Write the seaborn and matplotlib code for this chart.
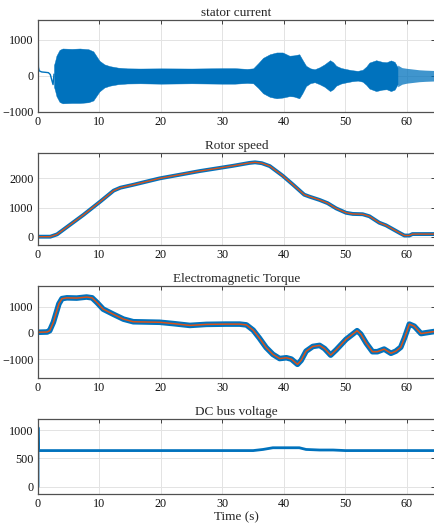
import matplotlib
matplotlib.use("Agg")
import matplotlib.pyplot as plt
import seaborn as sns

BLUE = "#0072BD"
LIGHT_BLUE = "#6fb3e3"
ORANGE = "#D95319"

# --- stator current ---
# start-up transient (single trace before the inverter kicks in)
I_PRE_T = [0.0, 0.06, 0.2, 0.6, 1.2, 1.7, 2.0, 2.25, 2.45, 2.6]
I_PRE_V = [1550, 250, 140, 110, 100, 90, 40, -120, -240, 50]
# envelope of the fast oscillation
ENV_T = [2.6, 2.8, 3.0, 3.5, 4.0, 5.5, 6.8, 8.2, 9.0, 10.0, 10.8, 11.7, 13.0,
         14.5, 16.6, 20.0, 25.0, 30.0, 32.0, 34.0, 35.0, 35.8, 36.6, 37.7,
         38.8, 39.8, 40.9, 41.6, 42.5, 43.0, 43.6, 44.3, 45.0, 45.8, 46.6,
         47.5, 48.0, 48.5, 49.3, 50.1, 51.0, 52.0, 52.8, 53.4, 53.9, 55.0,
         56.0, 56.7, 57.4, 58.0, 58.5]
ENV_UP = [300, 420, 560, 720, 760, 750, 760, 740, 680, 420, 320, 270, 230,
          210, 205, 210, 205, 215, 215, 195, 210, 350, 500, 600, 650, 650,
          560, 570, 600, 450, 280, 210, 185, 240, 320, 435, 380, 280, 220,
          190, 160, 140, 170, 260, 370, 435, 390, 380, 430, 390, 240]
ENV_LO = [-300, -420, -560, -720, -760, -750, -750, -730, -680, -430, -320,
          -270, -230, -210, -205, -215, -205, -215, -215, -195, -205, -330,
          -480, -580, -620, -600, -560, -570, -620, -480, -280, -200, -175,
          -230, -300, -420, -370, -270, -210, -180, -150, -130, -160, -250,
          -350, -420, -380, -370, -420, -380, -230]
# sparse tail after ~58.5 s
TAIL_T = [58.5, 59.2, 60.0, 61.0, 62.0, 63.0, 64.5]
TAIL_UP = [300, 230, 210, 190, 170, 160, 150]
TAIL_LO = [-300, -230, -200, -180, -160, -150, -140]

# --- rotor speed ---
SPD_T = [0, 2.0, 3.1, 4.7, 7.4, 10.1, 12.3, 13.4, 15.5, 19.8, 26.3, 31.7,
         34.4, 35.3, 36.4, 37.7, 39.8, 41.5, 43.3, 44.2, 45.8, 47.1, 48.5,
         50.1, 51.2, 52.8, 53.9, 55.5, 56.6, 58.8, 59.6, 60.4, 60.9, 64.5]
SPD_V = [0, 0, 80, 330, 750, 1200, 1580, 1680, 1780, 2000, 2250, 2430, 2530,
         2550, 2520, 2420, 2090, 1780, 1440, 1370, 1260, 1150, 970, 820, 780,
         770, 700, 480, 390, 130, 40, 40, 90, 90]

# --- electromagnetic torque ---
TQ_T = [0, 1.5, 1.9, 2.5, 3.4, 3.9, 4.7, 6.3, 7.9, 8.8, 9.6, 10.6, 12.3,
        13.9, 15.5, 19.8, 22.0, 24.7, 27.4, 30.6, 32.8, 33.9, 35.0, 36.0,
        37.1, 38.2, 39.3, 40.4, 41.2, 42.2, 42.8, 43.6, 44.7, 45.8, 46.6,
        47.6, 48.5, 50.1, 51.2, 51.9, 52.5, 53.4, 54.4, 55.2, 56.3, 57.4,
        58.2, 59.0, 59.6, 60.4, 61.2, 62.3, 63.1, 64.5]
TQ_V = [20, 30, 80, 400, 1100, 1300, 1330, 1320, 1360, 1330, 1150, 900, 700,
        520, 420, 400, 350, 280, 320, 330, 330, 300, 100, -200, -560, -820,
        -980, -950, -1000, -1200, -1050, -700, -520, -480, -600, -850, -650,
        -250, -50, 80, -50, -400, -720, -720, -620, -780, -700, -550, -200,
        330, 250, -30, 0, 50]

# --- DC bus voltage ---
DC_T = [0, 0, 0.05, 35.0, 36.6, 38.2, 42.5, 43.6, 45.8, 48.0, 50.0, 64.5]
DC_V = [0, 1050, 640, 640, 660, 690, 690, 660, 650, 650, 640, 640]

XTICKS = [0, 10, 20, 30, 40, 50, 60]

sns.set_theme(style="white")
plt.rcParams["font.family"] = ["Liberation Serif", "DejaVu Serif"]

fig = plt.figure(figsize=(4.35, 5.31), dpi=100)
L, W = 38 / 435, 1 - 38 / 435 - 0.001
rects = [(1 - 112 / 531, 92 / 531), (1 - 245 / 531, 92 / 531),
         (1 - 378 / 531, 92 / 531), (1 - 494 / 531, 75 / 531)]
axes = [fig.add_axes([L, b, W, h]) for b, h in rects]

# stator current
ax = axes[0]
ax.fill_between(ENV_T, ENV_LO, ENV_UP, color=BLUE, lw=0.3)
ax.fill_between(TAIL_T, TAIL_LO, TAIL_UP, color=BLUE, alpha=0.75, lw=0)
sns.lineplot(x=I_PRE_T[:2], y=I_PRE_V[:2], ax=ax, color=LIGHT_BLUE, lw=1.2,
             sort=False, estimator=None)
sns.lineplot(x=I_PRE_T[1:], y=I_PRE_V[1:], ax=ax, color=BLUE, lw=1.0,
             sort=False, estimator=None)
ax.set_ylim(-1000, 1550)
ax.set_yticks([-1000, 0, 1000])
ax.set_title("stator current")

# rotor speed
ax = axes[1]
sns.lineplot(x=SPD_T, y=SPD_V, ax=ax, color=BLUE, lw=2.8, sort=False, estimator=None)
sns.lineplot(x=SPD_T, y=SPD_V, ax=ax, color=ORANGE, lw=1.0, sort=False, estimator=None)
ax.set_ylim(-285, 2870)
ax.set_yticks([0, 1000, 2000])
ax.set_title("Rotor speed")

# torque
ax = axes[2]
sns.lineplot(x=TQ_T, y=TQ_V, ax=ax, color=BLUE, lw=4.0, sort=False, estimator=None)
sns.lineplot(x=TQ_T, y=TQ_V, ax=ax, color=ORANGE, lw=1.1, sort=False, estimator=None)
ax.set_ylim(-1720, 1780)
ax.set_yticks([-1000, 0, 1000])
ax.set_title("Electromagnetic Torque")

# DC bus
ax = axes[3]
sns.lineplot(x=DC_T, y=DC_V, ax=ax, color=BLUE, lw=2.0, sort=False, estimator=None)
ax.set_ylim(-130, 1200)
ax.set_yticks([0, 500, 1000])
ax.set_title("DC bus voltage")

for ax in axes:
    ax.set_xlim(0, 64.5)
    ax.set_xticks(XTICKS)
    ax.grid(True, color="#e3e3e3", lw=0.7)
    ax.set_axisbelow(True)
    ax.set_title(ax.get_title(), fontsize=9.5, pad=3)
    ax.tick_params(direction="in", length=3, width=0.7, color="#404040",
                   labelsize=8.7, labelcolor="#111111", top=True, right=True, pad=3)
    for s in ax.spines.values():
        s.set_color("#505050")
        s.set_linewidth(0.9)
    ax.set_xlabel("")
    ax.set_ylabel("")

axes[3].set_xlabel("Time (s)", fontsize=9.5, labelpad=1)

fig.savefig("out.png", dpi=100)
